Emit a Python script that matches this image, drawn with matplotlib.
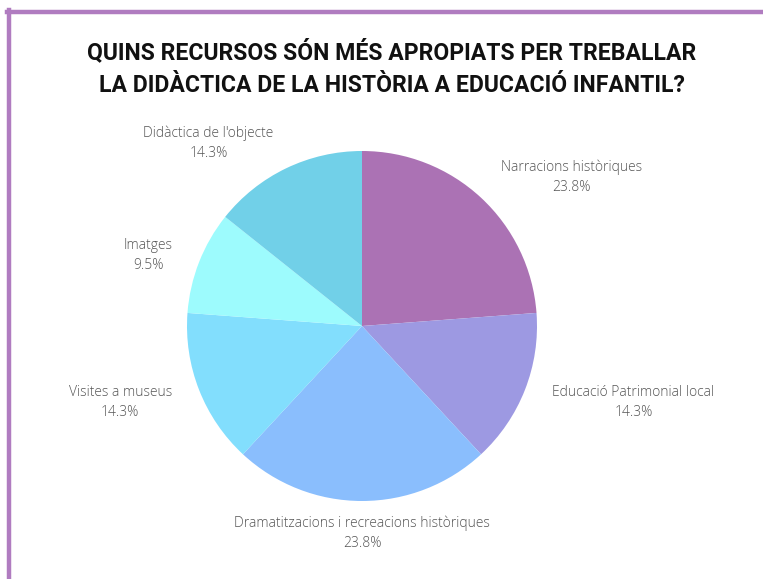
import numpy as np
import matplotlib
matplotlib.use("Agg")
import matplotlib.pyplot as plt

categories = ["Narracions històriques", "Educació Patrimonial local",
              "Dramatitzacions i recreacions històriques", "Visites a museus",
              "Imatges", "Didàctica de l'objecte"]
values = [5, 3, 5, 3, 2, 3]
colors = ["#AB72B4", "#9D99E2", "#8ABEFD", "#82DEFD", "#9DFBFD", "#71D0E8"]
title = "QUINS RECURSOS SÓN MÉS APROPIATS PER TREBALLAR\nLA DIDÀCTICA DE LA HISTÒRIA A EDUCACIÓ INFANTIL?"

# label nudges in pixels (style only)
label_nudge = [(8, -10), (11, -6), (0, 2.5), (-11, -6), (-10, 0), (-5, -8)]

W, H = 763, 579
fig = plt.figure(figsize=(W / 100, H / 100), dpi=100)
fig.patch.set_facecolor("white")

cx, cy, R = 362, 326, 175
ax = fig.add_axes([(cx - 2 * R) / W, 0, 4 * R / W, 2 * (H - cy) / H])
half = (H - cy) / R

wedges, _ = ax.pie(values, colors=colors, startangle=90, counterclock=False,
                   radius=1, wedgeprops=dict(linewidth=0))
ax.set_xlim(-2, 2)
ax.set_ylim(-half, half)
ax.axis("off")

total = sum(values)
for w, name, v, nd in zip(wedges, categories, values, label_nudge):
    mid = np.deg2rad((w.theta1 + w.theta2) / 2)
    c, s = np.cos(mid), np.sin(mid)
    ha = "left" if c > 0.3 else ("right" if c < -0.3 else "center")
    va = "bottom" if s > 0.5 else ("top" if s < -0.5 else "center")
    d = 1.1
    ax.annotate(f"{name}\n{100 * v / total:.1f}%", xy=(d * c, d * s),
                xytext=nd, textcoords="offset pixels", ha=ha, va=va,
                ma="center", fontsize=10, color="#555555", family="Open Sans",
                fontweight="light", linespacing=1.45)

fig.text(392 / W, 1 - 68 / H, title, ha="center", va="center",
         fontsize=16.6, fontweight="bold", family="Roboto", color="#111111",
         linespacing=1.55)

# purple frame lines (top and left)
fig.add_artist(plt.Line2D([7 / W, 1], [1 - 11.5 / H, 1 - 11.5 / H], color="#B07CC0", lw=3.2,
                          transform=fig.transFigure))
fig.add_artist(plt.Line2D([8.5 / W, 8.5 / W], [0, 1 - 10 / H], color="#B07CC0", lw=3.2,
                          transform=fig.transFigure))

fig.savefig("out.png", dpi=100)
